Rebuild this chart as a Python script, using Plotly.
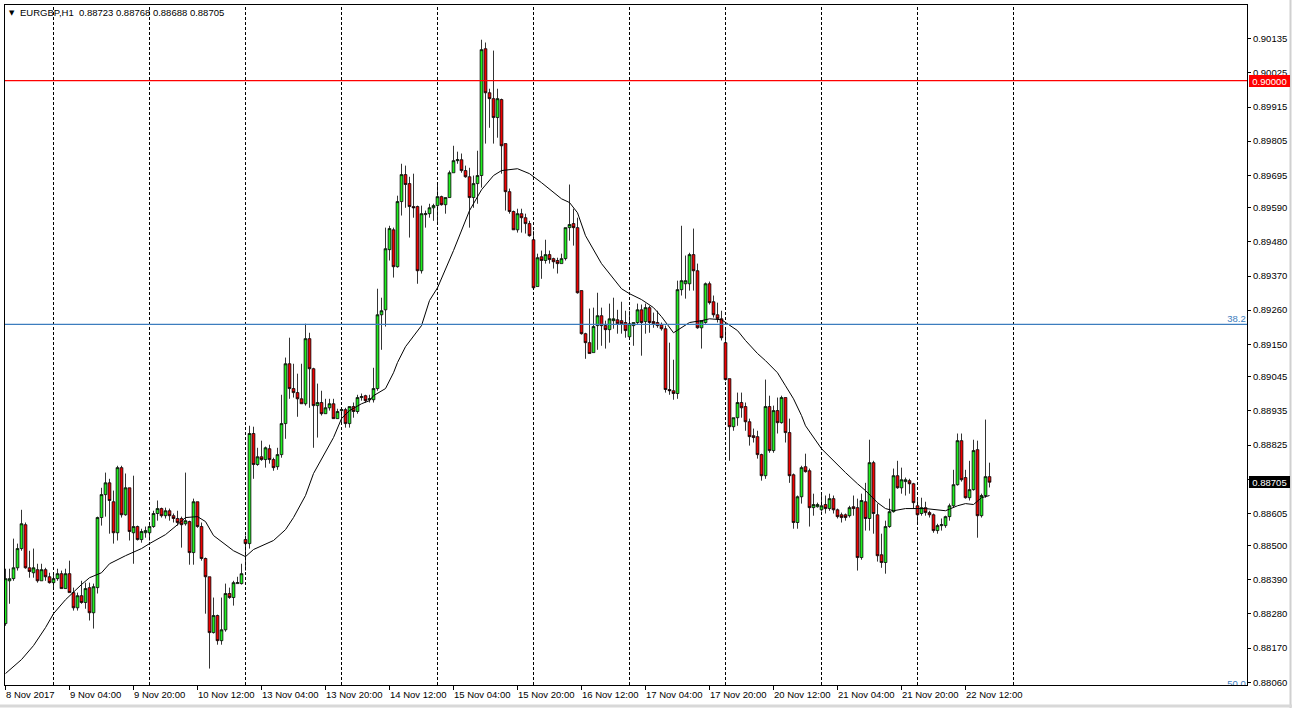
import plotly.graph_objects as go
import pandas as pd

# ---------------- data ----------------
symbol = "EURGBP,H1"
start_time = "2017-11-08 12:00"

opens = [0.88249,0.88387,0.88394,0.88429,0.88491,0.88568,0.88429,0.88413,0.88423,0.88387,
0.88423,0.88400,0.88381,0.88394,0.88410,0.88362,0.88410,0.88349,0.88300,0.88339,
0.88317,0.88365,0.88284,0.88365,0.88591,0.88665,0.88703,0.88642,0.88542,0.88752,
0.88600,0.88687,0.88542,0.88562,0.88520,0.88542,0.88542,0.88562,0.88604,0.88620,
0.88597,0.88613,0.88597,0.88588,0.88588,0.88571,0.88578,0.88478,0.88642,0.88562,
0.88459,0.88400,0.88220,0.88275,0.88194,0.88229,0.88346,0.88333,0.88378,0.88378,
0.88520,0.88507,0.88862,0.88762,0.88787,0.88778,0.88813,0.88778,0.88755,0.88794,
0.88894,0.89087,0.89007,0.88994,0.88974,0.88958,0.89168,0.89071,0.88952,0.88962,
0.88926,0.88945,0.88958,0.88910,0.88936,0.88939,0.88894,0.88949,0.88933,0.88978,
0.88984,0.88971,0.88971,0.89007,0.89245,0.89261,0.89455,0.89519,0.89400,0.89610,
0.89697,0.89668,0.89594,0.89594,0.89387,0.89568,0.89571,0.89590,0.89597,0.89626,
0.89600,0.89623,0.89703,0.89742,0.89745,0.89710,0.89690,0.89623,0.89668,0.89694,
0.90103,0.89961,0.89942,0.89881,0.89939,0.89797,0.89642,0.89578,0.89519,0.89571,
0.89558,0.89539,0.89487,0.89336,0.89432,0.89420,0.89439,0.89426,0.89420,0.89410,
0.89426,0.89526,0.89539,0.89526,0.89323,0.89184,0.89155,0.89123,0.89210,0.89242,
0.89210,0.89197,0.89226,0.89229,0.89226,0.89220,0.89174,0.89210,0.89220,0.89261,
0.89223,0.89268,0.89223,0.89220,0.89213,0.89200,0.89004,0.89000,0.88991,0.89326,
0.89345,0.89345,0.89439,0.89387,0.89203,0.89220,0.89345,0.89287,0.89245,0.89232,
0.89155,0.89039,0.88884,0.88913,0.88962,0.88949,0.88900,0.88855,0.88852,0.88794,
0.88726,0.88949,0.88807,0.88936,0.88897,0.88978,0.88865,0.88729,0.88575,0.88658,
0.88755,0.88742,0.88623,0.88626,0.88616,0.88633,0.88620,0.88652,0.88616,0.88600,
0.88600,0.88597,0.88626,0.88623,0.88462,0.88642,0.88588,0.88768,0.88600,0.88471,
0.88446,0.88562,0.88610,0.88726,0.88687,0.88707,0.88710,0.88700,0.88629,0.88604,
0.88623,0.88607,0.88600,0.88549,0.88565,0.88565,0.88594,0.88629,0.88697,0.88839,
0.88720,0.88655,0.88681,0.88810,0.88597,0.88662,0.88723]

highs = [0.88426,0.88426,0.88523,0.88507,0.88616,0.88575,0.88484,0.88491,0.88442,0.88442,
0.88429,0.88413,0.88413,0.88426,0.88420,0.88426,0.88452,0.88365,0.88349,0.88387,
0.88381,0.88381,0.88378,0.88594,0.88687,0.88736,0.88716,0.88678,0.88758,0.88758,
0.88733,0.88687,0.88726,0.88565,0.88555,0.88562,0.88575,0.88613,0.88646,0.88623,
0.88623,0.88620,0.88604,0.88613,0.88594,0.88736,0.88581,0.88652,0.88642,0.88575,
0.88462,0.88400,0.88333,0.88278,0.88333,0.88378,0.88365,0.88387,0.88400,0.88442,
0.88533,0.88887,0.88884,0.88816,0.88839,0.88820,0.88826,0.88784,0.88816,0.88987,
0.89107,0.89171,0.89087,0.89055,0.89087,0.89216,0.89187,0.89074,0.89023,0.89000,
0.88974,0.88974,0.88974,0.88942,0.88942,0.88945,0.88949,0.88962,0.88987,0.88991,
0.88987,0.88987,0.89074,0.89329,0.89300,0.89526,0.89532,0.89526,0.89629,0.89732,
0.89726,0.89690,0.89700,0.89597,0.89597,0.89581,0.89603,0.89603,0.89665,0.89629,
0.89623,0.89710,0.89790,0.89771,0.89765,0.89726,0.89719,0.89694,0.89774,0.90132,
0.90123,0.89974,0.90097,0.89974,0.89942,0.89797,0.89652,0.89581,0.89587,0.89587,
0.89571,0.89548,0.89516,0.89442,0.89452,0.89487,0.89452,0.89429,0.89429,0.89442,
0.89526,0.89665,0.89587,0.89558,0.89323,0.89187,0.89265,0.89268,0.89316,0.89268,
0.89226,0.89281,0.89300,0.89261,0.89287,0.89258,0.89258,0.89220,0.89281,0.89278,
0.89281,0.89274,0.89252,0.89258,0.89220,0.89210,0.89155,0.89100,0.89355,0.89532,
0.89436,0.89445,0.89523,0.89410,0.89226,0.89349,0.89352,0.89307,0.89284,0.89258,
0.89200,0.89039,0.88913,0.88994,0.88994,0.88962,0.88910,0.88878,0.88871,0.88797,
0.89036,0.88984,0.88952,0.88978,0.88984,0.88978,0.88910,0.88733,0.88662,0.88758,
0.88797,0.88749,0.88668,0.88639,0.88668,0.88662,0.88668,0.88662,0.88620,0.88607,
0.88604,0.88629,0.88662,0.88652,0.88668,0.88703,0.88842,0.88774,0.88636,0.88539,
0.88581,0.88652,0.88749,0.88774,0.88752,0.88720,0.88716,0.88703,0.88652,0.88655,
0.88642,0.88613,0.88604,0.88571,0.88588,0.88597,0.88636,0.88745,0.88862,0.88862,
0.88745,0.88774,0.88842,0.88839,0.88668,0.88907,0.88768]

lows = [0.88242,0.88313,0.88387,0.88420,0.88484,0.88426,0.88397,0.88397,0.88381,0.88387,
0.88387,0.88378,0.88365,0.88387,0.88362,0.88362,0.88349,0.88291,0.88291,0.88313,
0.88297,0.88259,0.88233,0.88346,0.88565,0.88594,0.88539,0.88507,0.88517,0.88591,
0.88597,0.88517,0.88442,0.88517,0.88510,0.88526,0.88517,0.88558,0.88581,0.88591,
0.88588,0.88581,0.88575,0.88565,0.88494,0.88565,0.88439,0.88439,0.88558,0.88452,
0.88281,0.88104,0.88217,0.88181,0.88181,0.88223,0.88329,0.88307,0.88378,0.88375,
0.88420,0.88491,0.88716,0.88758,0.88774,0.88752,0.88765,0.88742,0.88745,0.88784,
0.88845,0.88974,0.88978,0.88916,0.88958,0.88952,0.88945,0.88816,0.88849,0.88920,
0.88926,0.88936,0.88910,0.88910,0.88894,0.88881,0.88881,0.88913,0.88926,0.88968,
0.88962,0.88962,0.88962,0.89000,0.89132,0.89207,0.89420,0.89365,0.89397,0.89565,
0.89590,0.89494,0.89558,0.89345,0.89378,0.89526,0.89558,0.89548,0.89539,0.89597,
0.89571,0.89623,0.89703,0.89732,0.89703,0.89687,0.89526,0.89590,0.89603,0.89655,
0.89797,0.89848,0.89797,0.89816,0.89700,0.89581,0.89571,0.89519,0.89510,0.89510,
0.89507,0.89497,0.89326,0.89336,0.89361,0.89410,0.89410,0.89394,0.89378,0.89410,
0.89420,0.89484,0.89468,0.89313,0.89181,0.89103,0.89120,0.89123,0.89132,0.89145,
0.89136,0.89155,0.89200,0.89184,0.89184,0.89171,0.89171,0.89145,0.89213,0.89113,
0.89184,0.89187,0.89203,0.89203,0.89194,0.88994,0.88987,0.88971,0.88974,0.89307,
0.89297,0.89323,0.89323,0.89200,0.89136,0.89216,0.89278,0.89236,0.89220,0.89162,
0.89033,0.88774,0.88871,0.88887,0.88913,0.88871,0.88823,0.88833,0.88781,0.88710,
0.88716,0.88800,0.88800,0.88862,0.88894,0.88833,0.88703,0.88555,0.88555,0.88636,
0.88736,0.88562,0.88597,0.88623,0.88610,0.88604,0.88613,0.88604,0.88588,0.88575,
0.88581,0.88591,0.88597,0.88420,0.88455,0.88549,0.88549,0.88539,0.88449,0.88429,
0.88410,0.88558,0.88607,0.88684,0.88668,0.88662,0.88668,0.88620,0.88575,0.88597,
0.88597,0.88591,0.88542,0.88539,0.88549,0.88558,0.88581,0.88623,0.88694,0.88707,
0.88652,0.88646,0.88678,0.88526,0.88591,0.88655,0.88688]

closes = [0.88394,0.88394,0.88429,0.88491,0.88571,0.88429,0.88417,0.88429,0.88387,0.88423,
0.88400,0.88381,0.88394,0.88410,0.88362,0.88410,0.88349,0.88300,0.88339,0.88317,
0.88362,0.88284,0.88368,0.88591,0.88665,0.88703,0.88646,0.88542,0.88752,0.88600,
0.88687,0.88546,0.88562,0.88520,0.88546,0.88549,0.88562,0.88604,0.88620,0.88597,
0.88613,0.88597,0.88588,0.88575,0.88568,0.88581,0.88478,0.88642,0.88562,0.88459,
0.88400,0.88220,0.88275,0.88194,0.88229,0.88346,0.88333,0.88381,0.88381,0.88410,
0.88507,0.88862,0.88762,0.88787,0.88778,0.88816,0.88778,0.88752,0.88794,0.88894,
0.89087,0.89007,0.88994,0.88974,0.88958,0.89168,0.89071,0.88952,0.88962,0.88926,
0.88945,0.88958,0.88910,0.88933,0.88939,0.88894,0.88949,0.88933,0.88978,0.88981,
0.88968,0.88974,0.89007,0.89245,0.89258,0.89458,0.89523,0.89400,0.89610,0.89697,
0.89665,0.89594,0.89590,0.89387,0.89571,0.89571,0.89590,0.89597,0.89626,0.89600,
0.89623,0.89703,0.89742,0.89745,0.89710,0.89690,0.89623,0.89668,0.89694,0.90100,
0.89961,0.89942,0.89881,0.89942,0.89790,0.89642,0.89578,0.89519,0.89571,0.89558,
0.89539,0.89500,0.89332,0.89429,0.89420,0.89439,0.89423,0.89416,0.89410,0.89426,
0.89526,0.89536,0.89526,0.89316,0.89184,0.89155,0.89120,0.89207,0.89242,0.89210,
0.89197,0.89232,0.89232,0.89216,0.89216,0.89194,0.89216,0.89220,0.89261,0.89220,
0.89268,0.89220,0.89216,0.89210,0.89200,0.89004,0.89000,0.88991,0.89326,0.89355,
0.89355,0.89439,0.89387,0.89203,0.89226,0.89345,0.89284,0.89245,0.89232,0.89171,
0.89036,0.88884,0.88913,0.88962,0.88945,0.88900,0.88852,0.88849,0.88794,0.88726,
0.88949,0.88807,0.88936,0.88897,0.88978,0.88865,0.88726,0.88575,0.88658,0.88752,
0.88739,0.88623,0.88633,0.88633,0.88629,0.88620,0.88652,0.88616,0.88594,0.88591,
0.88591,0.88623,0.88620,0.88462,0.88646,0.88588,0.88768,0.88604,0.88468,0.88446,
0.88562,0.88610,0.88726,0.88687,0.88713,0.88713,0.88700,0.88639,0.88600,0.88623,
0.88607,0.88600,0.88549,0.88565,0.88568,0.88594,0.88629,0.88697,0.88839,0.88713,
0.88655,0.88681,0.88807,0.88597,0.88662,0.88723,0.88705]

# moving average (bar index, value)
ma_bars = [0,4,7,10,12,15,19,21,24,26,30,34,36,40,43,45,48,50,52,55,57,60,62,67,70,72,75,77,
           80,82,84,86,89,91,92,95,97,98,100,104,106,108,112,116,119,122,124,128,131,134,139,
           141,143,145,149,151,154,156,159,162,164,167,169,171,174,176,179,180,183,185,188,190,
           193,195,197,199,200,204,207,210,213,215,218,220,222,225,230,233,235,238,240,242,244,246]
ma_values = [0.88088,0.88133,0.88178,0.88236,0.88281,0.88326,0.88375,0.88397,0.88413,0.88442,
             0.88468,0.88491,0.88507,0.88536,0.88568,0.88591,0.88594,0.88578,0.88533,0.88504,
             0.88484,0.88465,0.88488,0.88517,0.88552,0.88591,0.88662,0.88733,0.88804,0.88849,
             0.88910,0.88936,0.88958,0.88968,0.88984,0.89007,0.89058,0.89091,0.89142,0.89210,
             0.89291,0.89332,0.89452,0.89581,0.89648,0.89694,0.89710,0.89716,0.89700,0.89671,
             0.89619,0.89607,0.89574,0.89500,0.89410,0.89378,0.89329,0.89313,0.89294,0.89268,
             0.89239,0.89187,0.89203,0.89220,0.89226,0.89232,0.89229,0.89220,0.89194,0.89162,
             0.89120,0.89097,0.89058,0.89016,0.88974,0.88920,0.88887,0.88813,0.88774,0.88736,
             0.88700,0.88678,0.88639,0.88620,0.88613,0.88620,0.88620,0.88616,0.88613,0.88629,
             0.88636,0.88633,0.88655,0.88662]

ytick_values = [0.90135,0.90025,0.89915,0.89805,0.89695,0.89590,0.89480,0.89370,0.89260,0.89150,
                0.89045,0.88935,0.88825,0.88715,0.88605,0.88500,0.88390,0.88280,0.88170,0.88060]
xtick_labels = ["8 Nov 2017","9 Nov 04:00","9 Nov 20:00","10 Nov 12:00","13 Nov 04:00",
                "13 Nov 20:00","14 Nov 12:00","15 Nov 04:00","15 Nov 20:00","16 Nov 12:00",
                "17 Nov 04:00","17 Nov 20:00","20 Nov 12:00","21 Nov 04:00","21 Nov 20:00",
                "22 Nov 12:00"]
label_every = 16
red_level = 0.90000
fib_labels = ["38.2", "50.0"]
fib_prices = [0.89214, 0.88036]

# ---------------- styling ----------------
W, H = 1292, 708
ML, MR, MT, MB = 5, 45, 5, 23
PW, PH = W - ML - MR, H - MT - MB
XR = [-0.125, 310.375]
YR = [0.88051, 0.90244]
GREEN = "#1EF01E"
RED = "#F00000"
BLUE = "#3C7DBE"
FONT = "Liberation Sans"
FS = 9.5

bars = list(range(len(opens)))

# trading-hour time axis (weekends skipped) -> day separators
times = []
t = pd.Timestamp(start_time)
while len(times) < int(XR[1]) + 2:
    if t.weekday() < 5:
        times.append(t)
    t += pd.Timedelta(hours=1)
midnights = [i for i, tt in enumerate(times) if tt.hour == 0]
last_sep = min(i for i in midnights if i >= len(bars))
separators = [i for i in midnights if i <= last_sep]

fig = go.Figure()

fig.add_trace(go.Candlestick(
    x=bars, open=opens, high=highs, low=lows, close=closes,
    increasing=dict(fillcolor=GREEN, line=dict(color="black", width=0.8)),
    decreasing=dict(fillcolor=RED, line=dict(color="black", width=0.8)),
    whiskerwidth=0, hoverinfo="skip", showlegend=False))

fig.add_trace(go.Scatter(x=ma_bars, y=ma_values, mode="lines",
                         line=dict(color="black", width=1), hoverinfo="skip",
                         showlegend=False))

# horizontal levels
fig.add_trace(go.Scatter(x=XR, y=[red_level, red_level], mode="lines",
                         line=dict(color="#FF0000", width=1.2), hoverinfo="skip",
                         showlegend=False, cliponaxis=True))
for lab, p in zip(fib_labels, fib_prices):
    fig.add_trace(go.Scatter(x=XR, y=[p, p], mode="lines",
                             line=dict(color=BLUE, width=1.2), hoverinfo="skip",
                             showlegend=False, cliponaxis=True))
    fig.add_trace(go.Scatter(x=[XR[1] - 0.3], y=[p], mode="text", text=[lab],
                             textposition="top left",
                             textfont=dict(family=FONT, size=FS, color=BLUE),
                             hoverinfo="skip", showlegend=False, cliponaxis=True))

shapes = []
for s in separators:
    shapes.append(dict(type="line", xref="x", yref="paper", x0=s, x1=s, y0=0, y1=1,
                       line=dict(color="black", width=1, dash="3px,2px"), layer="below"))

def px_x(px):
    return (px - ML) / PW

def px_y(py):
    return (H - MB - py) / PH

# light grey window frame
shapes.append(dict(type="line", xref="paper", yref="paper", x0=px_x(1290.5), x1=px_x(1290.5),
                   y0=px_y(0), y1=px_y(708), line=dict(color="#D0D0D0", width=2)))
shapes.append(dict(type="line", xref="paper", yref="paper", x0=px_x(0), x1=px_x(1292),
                   y0=px_y(706), y1=px_y(706), line=dict(color="#D8D8D8", width=3)))

annotations = []
tick_pos = [i * label_every for i in range(len(xtick_labels))]
for pos, lab in zip(tick_pos, xtick_labels):
    annotations.append(dict(x=pos, xref="x", y=px_y(694), yref="paper", text=lab,
                            showarrow=False, xanchor="left", yanchor="middle", xshift=-2,
                            font=dict(family=FONT, size=FS, color="black")))

# header
o, h, l, c = opens[-1], highs[-1], lows[-1], closes[-1]
annotations.append(dict(x=px_x(12), y=px_y(13), xref="paper", yref="paper", text="▼",
                        showarrow=False, xanchor="center", yanchor="middle",
                        font=dict(family="DejaVu Sans", size=7, color="black")))
annotations.append(dict(x=px_x(20), y=px_y(13), xref="paper", yref="paper",
                        text=f"{symbol}  {o:.5f} {h:.5f} {l:.5f} {c:.5f}",
                        showarrow=False, xanchor="left", yanchor="middle", xshift=-2,
                        font=dict(family=FONT, size=FS, color="black")))

# price boxes on the right axis
annotations.append(dict(x=1, xref="paper", y=red_level, yref="y", text=f"{red_level:.5f}",
                        showarrow=False, xanchor="left", yanchor="middle", xshift=2,
                        width=41, height=12, borderpad=0, borderwidth=0, align="center",
                        bgcolor="#FF0000", font=dict(family=FONT, size=FS, color="white")))
annotations.append(dict(x=1, xref="paper", y=c, yref="y", text=f"{c:.5f}",
                        showarrow=False, xanchor="left", yanchor="middle", xshift=2,
                        width=41, height=12, borderpad=0, borderwidth=0, align="center",
                        bgcolor="black", font=dict(family=FONT, size=FS, color="white")))

fig.update_layout(
    width=W, height=H,
    margin=dict(l=ML, r=MR, t=MT, b=MB, pad=0),
    paper_bgcolor="white", plot_bgcolor="white",
    showlegend=False, hovermode=False,
    boxgap=0.02,
    shapes=shapes, annotations=annotations,
    xaxis=dict(range=XR, showgrid=False, zeroline=False, rangeslider=dict(visible=False),
               showline=True, linecolor="black", linewidth=1, mirror=True,
               tickmode="array", tickvals=tick_pos, showticklabels=False,
               ticks="outside", ticklen=4, tickcolor="black", tickwidth=1, fixedrange=True),
    yaxis=dict(range=YR, side="right", showgrid=False, zeroline=False,
               showline=True, linecolor="black", linewidth=1, mirror=True,
               tickmode="array", tickvals=ytick_values,
               ticktext=[f"{v:.5f}" for v in ytick_values],
               ticks="outside", ticklen=3, tickcolor="black", tickwidth=1,
               tickfont=dict(family=FONT, size=FS, color="black"), fixedrange=True),
)

fig.write_html("out.html", config={"displayModeBar": False},
               post_script="document.body.style.margin='0px';document.body.style.overflow='hidden';")
